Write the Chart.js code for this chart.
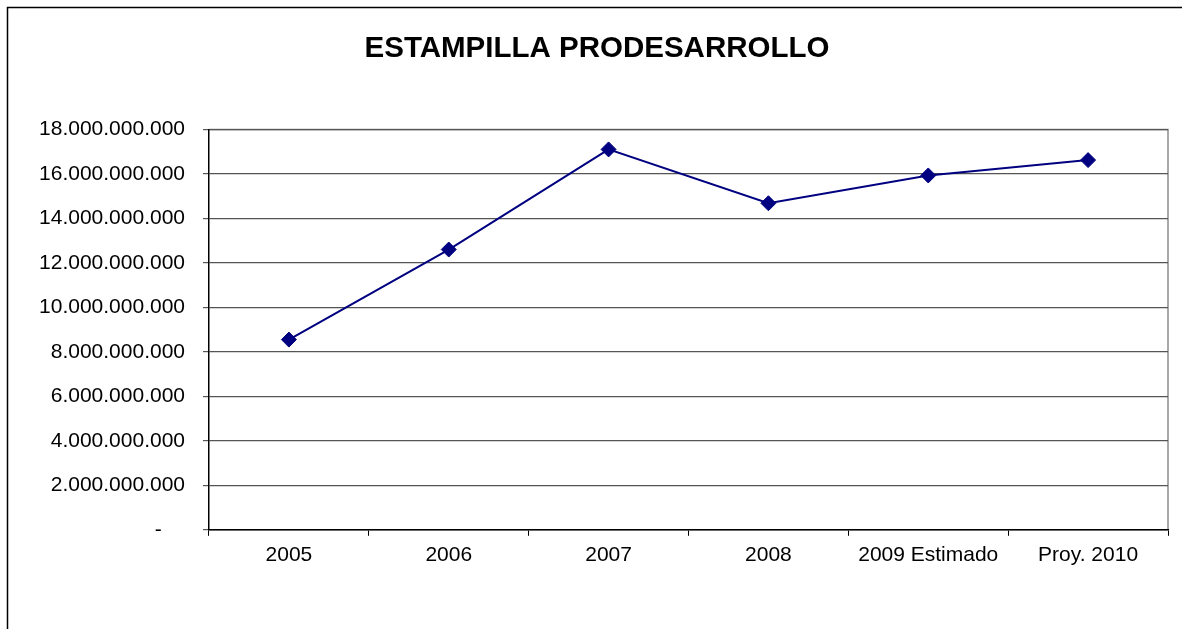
<!DOCTYPE html>
<html>
<head>
<meta charset="utf-8">
<script src="https://cdn.jsdelivr.net/npm/chart.js@4.4.1/dist/chart.umd.min.js"></script>
<style>
  html, body { margin: 0; padding: 0; background: #fff; overflow: hidden; }
  #wrap { width: 1182px; height: 629px; position: relative; }
</style>
</head>
<body>
<div id="wrap"><canvas id="chart" width="1182" height="629"></canvas></div>
<script>
// Estampilla Prodesarrollo, recaudo anual (pesos)
const years  = ["2005", "2006", "2007", "2008", "2009 Estimado", "Proy. 2010"];
const values = [8550000000, 12600000000, 17100000000, 14680000000, 15930000000, 16620000000];

const Y_MAX  = 18000000000;
const Y_STEP = 2000000000;

const FONT = "'Liberation Sans', Arial, Helvetica, sans-serif";
const LINE_COLOR = "#000080";

// outer frame (left + top edges visible) and grey top/right plot border
const framePlugin = {
  id: "frame",
  afterLayout(chart) {
    // title is centred on the whole frame, not on the padded box
    if (chart.titleBlock) {
      chart.titleBlock.left += 13;
      chart.titleBlock.right += 13;
    }
  },
  beforeDraw(chart) {
    const { ctx, chartArea: a } = chart;
    ctx.save();
    ctx.strokeStyle = "#000";
    ctx.lineWidth = 1.5;
    ctx.beginPath();
    ctx.moveTo(7.5, 640);
    ctx.lineTo(7.5, 7.5);
    ctx.lineTo(1200, 7.5);
    ctx.stroke();
    ctx.strokeStyle = "#8c8c8c";
    ctx.lineWidth = 1.5;
    ctx.beginPath();
    ctx.moveTo(a.left, a.top);
    ctx.lineTo(a.right, a.top);
    ctx.lineTo(a.right, a.bottom);
    ctx.stroke();
    ctx.restore();
  },
};

new Chart(document.getElementById("chart"), {
  type: "line",
  plugins: [framePlugin],
  data: {
    labels: years,
    datasets: [{
      data: values,
      borderColor: LINE_COLOR,
      backgroundColor: LINE_COLOR,
      borderWidth: 2,
      tension: 0,
      pointStyle: "rectRot",
      pointRadius: 7.5,
      pointBorderWidth: 1,
      pointBackgroundColor: LINE_COLOR,
      pointBorderColor: LINE_COLOR,
    }],
  },
  options: {
    responsive: false,
    animation: false,
    layout: { padding: { left: 0, right: 14, top: 0, bottom: 54 } },
    plugins: {
      legend: { display: false },
      tooltip: { enabled: false },
      title: {
        display: true,
        text: "ESTAMPILLA PRODESARROLLO",
        color: "#000",
        font: { family: FONT, size: 29.5, weight: "bold" },
        padding: { top: 31, bottom: 63 },
      },
    },
    scales: {
      x: {
        offset: true,
        grid: {
          offset: true,
          drawOnChartArea: false,
          drawTicks: true,
          tickLength: 6,
          color: "#000",
        },
        border: { color: "#000", width: 1.5 },
        ticks: { color: "#000", font: { family: FONT, size: 21 }, padding: 7, maxRotation: 0, autoSkip: false },
      },
      y: {
        min: 0,
        max: Y_MAX,
        afterFit(scale) { scale.width = 209; },
        grid: { color: "#555", lineWidth: 1.2, tickLength: 6 },
        border: { color: "#000", width: 1.5 },
        ticks: {
          stepSize: Y_STEP,
          color: "#000",
          padding: 18,
          font: { family: FONT, size: 21 },
          callback: v => v === 0 ? "-    " : v.toLocaleString("de-DE"),
        },
      },
    },
  },
});
</script>
</body>
</html>
